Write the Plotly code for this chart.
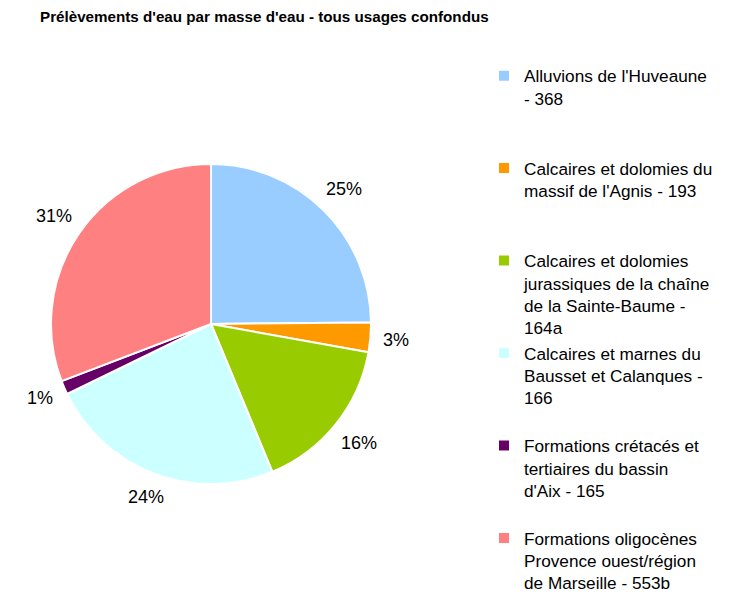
import math
import plotly.graph_objects as go

labels = [
    "Alluvions de l'Huveaune<br>- 368",
    "Calcaires et dolomies du<br>massif de l'Agnis - 193",
    "Calcaires et dolomies<br>jurassiques de la chaîne<br>de la Sainte-Baume -<br>164a",
    "Calcaires et marnes du<br>Bausset et Calanques -<br>166",
    "Formations crétacés et<br>tertiaires du bassin<br>d'Aix - 165",
    "Formations oligocènes<br>Provence ouest/région<br>de Marseille - 553b",
]
values = [25, 3, 16, 24.2, 1.4, 31]
colors = ["#99CCFF", "#FF9900", "#99CC00", "#CCFFFF", "#660066", "#FF8080"]

# pad legend entries (except the last) to 4 lines so each item has the same height
padded = []
for i, l in enumerate(labels):
    n = l.count("<br>") + 1
    padded.append(l + ("<br> " * (4 - n) if i < len(labels) - 1 else ""))

W, H = 741, 601
cx, cy, r = 211, 324, 160
FONT = "Liberation Sans, Arial"
pct_fs = 18

fig = go.Figure(go.Pie(
    labels=padded,
    values=values,
    marker=dict(colors=colors, line=dict(color="white", width=2)),
    sort=False,
    direction="clockwise",
    rotation=0,
    textinfo="none",
    hoverinfo="label+percent",
    domain=dict(x=[(cx - r) / W, (cx + r) / W], y=[(H - cy - r) / H, (H - cy + r) / H]),
    automargin=False,
))

# percentage labels placed outside each slice, along the slice's mid-angle
total = sum(values)
cum = 0
gap = 12
for v in values:
    mid = (cum + v / 2) / total * 2 * math.pi
    cum += v
    s, c = math.sin(mid), -math.cos(mid)
    txt = f"{round(v / total * 100)}%"
    ndig = len(txt) - 1
    w = pct_fs * (0.556 * ndig + 0.889)
    h = pct_fs * 0.75
    d = r + gap + (w / 2) * abs(s) + (h / 2) * abs(c)
    fig.add_annotation(
        x=(cx + d * s) / W, y=(H - (cy + d * c)) / H,
        xref="paper", yref="paper", xanchor="center", yanchor="middle",
        text=txt, showarrow=False,
        font=dict(family=FONT, size=pct_fs, color="#000"),
    )

fig.update_layout(
    width=W, height=H,
    margin=dict(l=0, r=0, t=0, b=0),
    paper_bgcolor="white",
    font=dict(family=FONT, size=16, color="#000"),
    title=dict(text="<b>Prélèvements d'eau par masse d'eau - tous usages confondus</b>",
               x=40 / W, xanchor="left", y=1 - 17 / H, yanchor="middle",
               font=dict(size=15.2, family=FONT, color="#000")),
    legend=dict(x=484 / W, xanchor="left", y=1 - 62 / H, yanchor="top",
                valign="top", font=dict(size=17.2, family=FONT, color="#000"),
                itemwidth=30, tracegroupgap=0, bgcolor="rgba(0,0,0,0)"),
)

fig.write_html("out.html", config={"displayModeBar": False},
               post_script="document.body.style.margin='0';")
